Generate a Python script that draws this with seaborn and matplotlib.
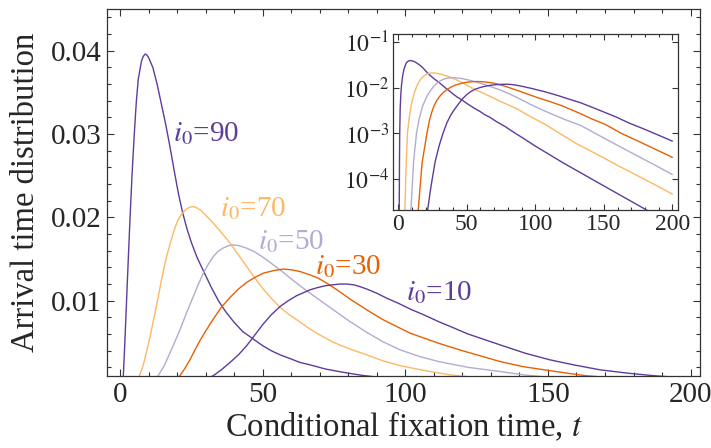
import numpy as np
import pandas as pd
import matplotlib
matplotlib.use("Agg")
import matplotlib.pyplot as plt
import seaborn as sns
from matplotlib.ticker import MultipleLocator, FixedLocator, FuncFormatter, NullLocator

# Conditional fixation-time distributions for different initial counts i0
t90 = [0.5, 0.8, 1.0, 1.16, 1.5, 2.0, 2.5, 3.0, 3.5, 4.2, 5.0, 5.7, 6.4, 7.5, 8.1, 8.8, 9.4, 10,
       11.5, 13, 14.5, 16, 17.5, 19, 20.5, 22, 23.5, 25, 27, 29.2, 32, 34.5, 36.8, 40, 43, 46.7,
       50, 53, 56.1, 60, 63, 66.6, 72, 78, 85, 92, 100, 110, 120, 140, 160, 180, 200]
p90 = [1e-7, 2e-5, 2.5e-4, 0.0010, 0.0035, 0.0075, 0.0117, 0.0158, 0.0198, 0.0250, 0.0300,
       0.0338, 0.0366, 0.0387, 0.0393, 0.0396, 0.0395, 0.0392, 0.0380, 0.0360, 0.0336, 0.0312,
       0.0285, 0.0256, 0.0228, 0.0205, 0.0186, 0.0170, 0.0152, 0.0136, 0.0116, 0.0100, 0.0088,
       0.0074, 0.0063, 0.0054, 0.0046, 0.0040, 0.0035, 0.0030, 0.0026, 0.0023, 0.0018, 0.00142,
       0.00103, 0.00076, 0.00053, 0.00035, 0.00023, 0.000105, 0.000048, 0.000022, 0.000010]

t70 = [4.0, 4.9, 5.8, 6.8, 8.0, 9.4, 10.8, 12.0, 13.2, 14.3, 15.5, 16.4, 17.3, 18.3, 19.3, 20.1,
       21.0, 22.1, 23.3, 24.5, 25.7, 27.0, 28.5, 30.5, 32.7, 35.5, 38.6, 41.5, 44.4, 47.3, 50.2,
       53, 56.1, 59, 62, 66.6, 70, 74.8, 80.6, 86.5, 92, 98.2, 107, 115.7, 130, 145, 160, 180,
       200]
p70 = [1e-6, 2e-5, 1.8e-4, 0.0010, 0.0021, 0.0040, 0.0061, 0.0081, 0.0101, 0.0121, 0.0141,
       0.0154, 0.0165, 0.0177, 0.0188, 0.0195, 0.0201, 0.0206, 0.0210, 0.02123, 0.0213, 0.02113,
       0.0208, 0.0201, 0.0193, 0.0182, 0.0169, 0.0155, 0.0141, 0.0127, 0.0114, 0.0103, 0.0092,
       0.0084, 0.0077, 0.0066, 0.0059, 0.0050, 0.0042, 0.0035, 0.0028, 0.0022, 0.0016, 0.0011,
       6.0e-4, 3.5e-4, 2.0e-4, 9.8e-5, 4.7e-5]

t50 = [8.0, 9.3, 11.3, 13.4, 15.5, 18.0, 21.0, 23.5, 25.7, 27.5, 29.2, 31.0, 32.7, 34.3, 36.0,
       38.0, 39.7, 41.8, 44.4, 47.0, 50.2, 56.1, 61.9, 66.6, 74.8, 80.6, 86.5, 92, 98.2, 105,
       111.6, 122, 133.2, 141.4, 155, 170, 185, 200]
p50 = [1e-6, 2e-5, 2.5e-4, 0.0010, 0.0022, 0.0041, 0.0065, 0.0087, 0.0105, 0.0120, 0.0133,
       0.0144, 0.0153, 0.0159, 0.0163, 0.0166, 0.0167, 0.0166, 0.0163, 0.0159, 0.0152, 0.0137,
       0.0121, 0.0109, 0.0089, 0.0075, 0.0062, 0.0051, 0.0041, 0.0033, 0.0027, 0.0020, 0.0015,
       0.0011, 6.6e-4, 3.8e-4, 2.2e-4, 1.26e-4]

t30 = [12.5, 14.6, 17.5, 21.0, 22.8, 24.5, 26.3, 28.0, 30.3, 32.7, 35.5, 38.6, 41.5, 44.4, 47.3,
       50.2, 53.7, 57.3, 60.2, 63.1, 66.6, 69.5, 72.5, 76.5, 80.6, 86.5, 92.3, 101.7, 111.6, 120,
       133.2, 141, 150.7, 163, 175, 187, 200]
p30 = [1e-6, 2e-5, 2.3e-4, 0.0010, 0.0019, 0.0029, 0.0041, 0.0052, 0.0065, 0.0078, 0.0092,
       0.0104, 0.0114, 0.0122, 0.0128, 0.0133, 0.0136, 0.0138, 0.0137, 0.0135, 0.0131, 0.0127,
       0.0121, 0.0112, 0.0102, 0.0089, 0.0077, 0.0061, 0.0049, 0.0040, 0.0027, 0.0021, 0.0016,
       0.0010, 6.8e-4, 4.6e-4, 3.0e-4]

t10 = [18.5, 21.4, 24.0, 27.0, 30.0, 32.7, 35.5, 38.6, 41.5, 44.4, 47.3, 50.2, 53, 56.1, 59,
       61.9, 66.6, 69.0, 72, 74.5, 77.1, 79.5, 82, 84, 86.5, 90, 93.5, 97.5, 101.7, 106.5, 111.6,
       116.5, 122, 133.2, 142, 150.7, 159, 168.3, 178, 187, 200]
p10 = [1e-6, 2e-5, 7e-5, 2.4e-4, 5.5e-4, 0.0010, 0.0017, 0.0026, 0.0035, 0.0046, 0.0059,
       0.0072, 0.0083, 0.0093, 0.0100, 0.0106, 0.0113, 0.01155, 0.0118, 0.0119, 0.0120, 0.0120,
       0.0119, 0.0117, 0.0114, 0.0109, 0.0103, 0.0097, 0.0090, 0.0083, 0.0075, 0.0068, 0.0060,
       0.0047, 0.0037, 0.0029, 0.0023, 0.0017, 0.0013, 0.0010, 6.8e-4]

series = {"90": (t90, p90), "70": (t70, p70), "50": (t50, p50), "30": (t30, p30), "10": (t10, p10)}
colors = {"90": "#5e3c99", "70": "#fdb863", "50": "#b2abd2", "30": "#e66101", "10": "#5e3c99"}

# curve annotations: (left t, baseline value)
label_pos = {"90": (18.5, 0.0292), "70": (35.1, 0.0202), "50": (48.5, 0.0162),
             "30": (68.4, 0.0132), "10": (100.3, 0.0101)}

df = pd.concat([pd.DataFrame({"t": t, "p": p, "i0": k}) for k, (t, p) in series.items()],
               ignore_index=True)

sns.set_style("ticks")
plt.rcParams["font.family"] = ["Liberation Serif", "DejaVu Serif"]
plt.rcParams["mathtext.fontset"] = "stix"

fig = plt.figure(figsize=(7.11, 4.48), dpi=100)
ax = fig.add_axes([0.1505, 0.1607, 0.834, 0.819])

sns.lineplot(data=df, x="t", y="p", hue="i0", palette=colors, legend=False, ax=ax,
             linewidth=1.0, sort=False, estimator=None)

ax.set_xlim(-4.56, 203.3)
ax.set_ylim(0.00096, 0.045)
ax.xaxis.set_major_locator(FixedLocator([0, 50, 100, 150, 200]))
ax.xaxis.set_minor_locator(MultipleLocator(10))
ax.yaxis.set_major_locator(FixedLocator([0.01, 0.02, 0.03, 0.04]))
ax.yaxis.set_major_formatter(FuncFormatter(lambda v, _: f"{v:.2f}"))
ax.yaxis.set_minor_locator(MultipleLocator(0.002))
ax.tick_params(which="both", direction="in", top=True, right=True, labelsize=21,
               color="#333333", width=0.8, pad=4)
ax.tick_params(which="major", length=5)
ax.tick_params(which="minor", length=3)
for s in ax.spines.values():
    s.set_color("#333333")
    s.set_linewidth(0.9)

ax.set_xlabel("Conditional fixation time, $t$", fontsize=23.5, labelpad=2)
ax.set_ylabel("Arrival time distribution", fontsize=23.5, labelpad=7)

for k, (tx, ty) in label_pos.items():
    ax.text(tx, ty, rf"$i_0$={k}", color=colors[k], fontsize=21, ha="left", va="baseline")

# log-scale inset showing the tails
axin = fig.add_axes([0.553, 0.531, 0.4004, 0.394])
sns.lineplot(data=df, x="t", y="p", hue="i0", palette=colors, legend=False, ax=axin,
             linewidth=1.0, sort=False, estimator=None)
axin.set_yscale("log")
axin.set_xlim(-3.6, 204)
axin.set_ylim(10 ** -4.68, 10 ** -0.81)
axin.set_xlabel("")
axin.set_ylabel("")
axin.xaxis.set_major_locator(FixedLocator([0, 50, 100, 150, 200]))
axin.xaxis.set_minor_locator(MultipleLocator(10))
axin.yaxis.set_major_locator(FixedLocator([1e-4, 1e-3, 1e-2, 1e-1]))
axin.yaxis.set_major_formatter(FuncFormatter(lambda v, _: r"$10^{%d}$" % round(np.log10(v))))
axin.yaxis.set_minor_locator(NullLocator())
axin.tick_params(which="both", direction="in", top=True, right=True, labelsize=17,
                 color="#333333", width=0.8, pad=3)
axin.tick_params(which="major", length=4)
axin.tick_params(which="minor", length=2.5)
for s in axin.spines.values():
    s.set_color("#333333")
    s.set_linewidth(0.9)

fig.savefig("out.png", dpi=100)
